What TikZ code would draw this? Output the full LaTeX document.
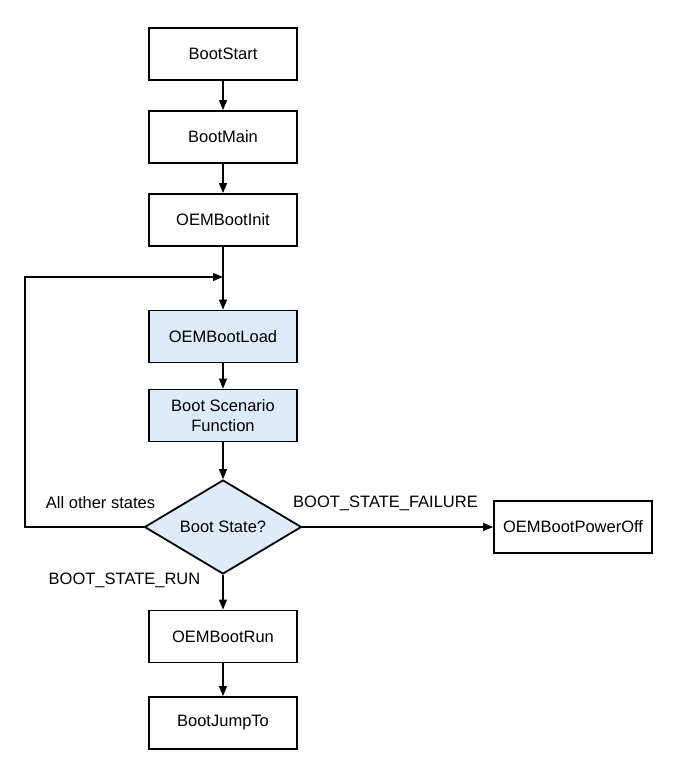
\documentclass[tikz,border=0pt]{standalone}
\usepackage{fontspec}
\setmainfont{Liberation Sans}
\usetikzlibrary{arrows.meta,shapes.geometric}
\definecolor{boxblue}{HTML}{DDEBFB}
\begin{document}
\begin{tikzpicture}[x=1pt,y=-1pt,
  font=\fontsize{16.5}{20}\selectfont,
  box/.style={draw,line width=1.8pt,minimum width=148pt,minimum height=52pt,align=center,inner sep=2pt},
  bluebox/.style={box,fill=boxblue},
  decision/.style={draw,line width=1.8pt,diamond,fill=boxblue,minimum width=157pt,minimum height=94pt,inner sep=0pt,aspect=1.67},
  conn/.style={line width=1.1pt,-{Triangle[length=10pt,width=8pt]}},
  lbl/.style={inner sep=0pt}]
\useasboundingbox (0,0) rectangle (679,776);
\node[box] (start) at (223,54) {BootStart};
\node[box] (main) at (223,137) {BootMain};
\node[box] (init) at (223,220) {OEMBootInit};
\node[bluebox] (load) at (223,336.5) {OEMBootLoad};
\node[bluebox] (scen) at (223,415.5) {Boot Scenario\\Function};
\node[decision] (dec) at (223,527) {Boot State?};
\node[box,minimum width=158pt] (off) at (573,527) {OEMBootPowerOff};
\node[box] (run) at (223,636.5) {OEMBootRun};
\node[box] (jump) at (223,723) {BootJumpTo};
\coordinate (merge) at (223,277);
\coordinate (lt) at (25,277);
\draw[conn] (start) -- (main);
\draw[conn] (main) -- (init);
\draw[conn] (init) -- (load);
\draw[conn] (load) -- (scen);
\draw[conn] (scen) -- (dec);
\draw[conn] (dec.west) -| (lt) -- (merge);
\draw[conn] (dec.east) -- (off.west);
\draw[conn] (dec) -- (run);
\draw[conn] (run) -- (jump);
\node[lbl] (l1) at (100.5,503) {All other states};
\node[lbl] (l2) at (385.5,503) {BOOT\_STATE\_FAILURE};
\node[lbl] (l3) at (124.5,580) {BOOT\_STATE\_RUN};
\end{tikzpicture}
\end{document}
